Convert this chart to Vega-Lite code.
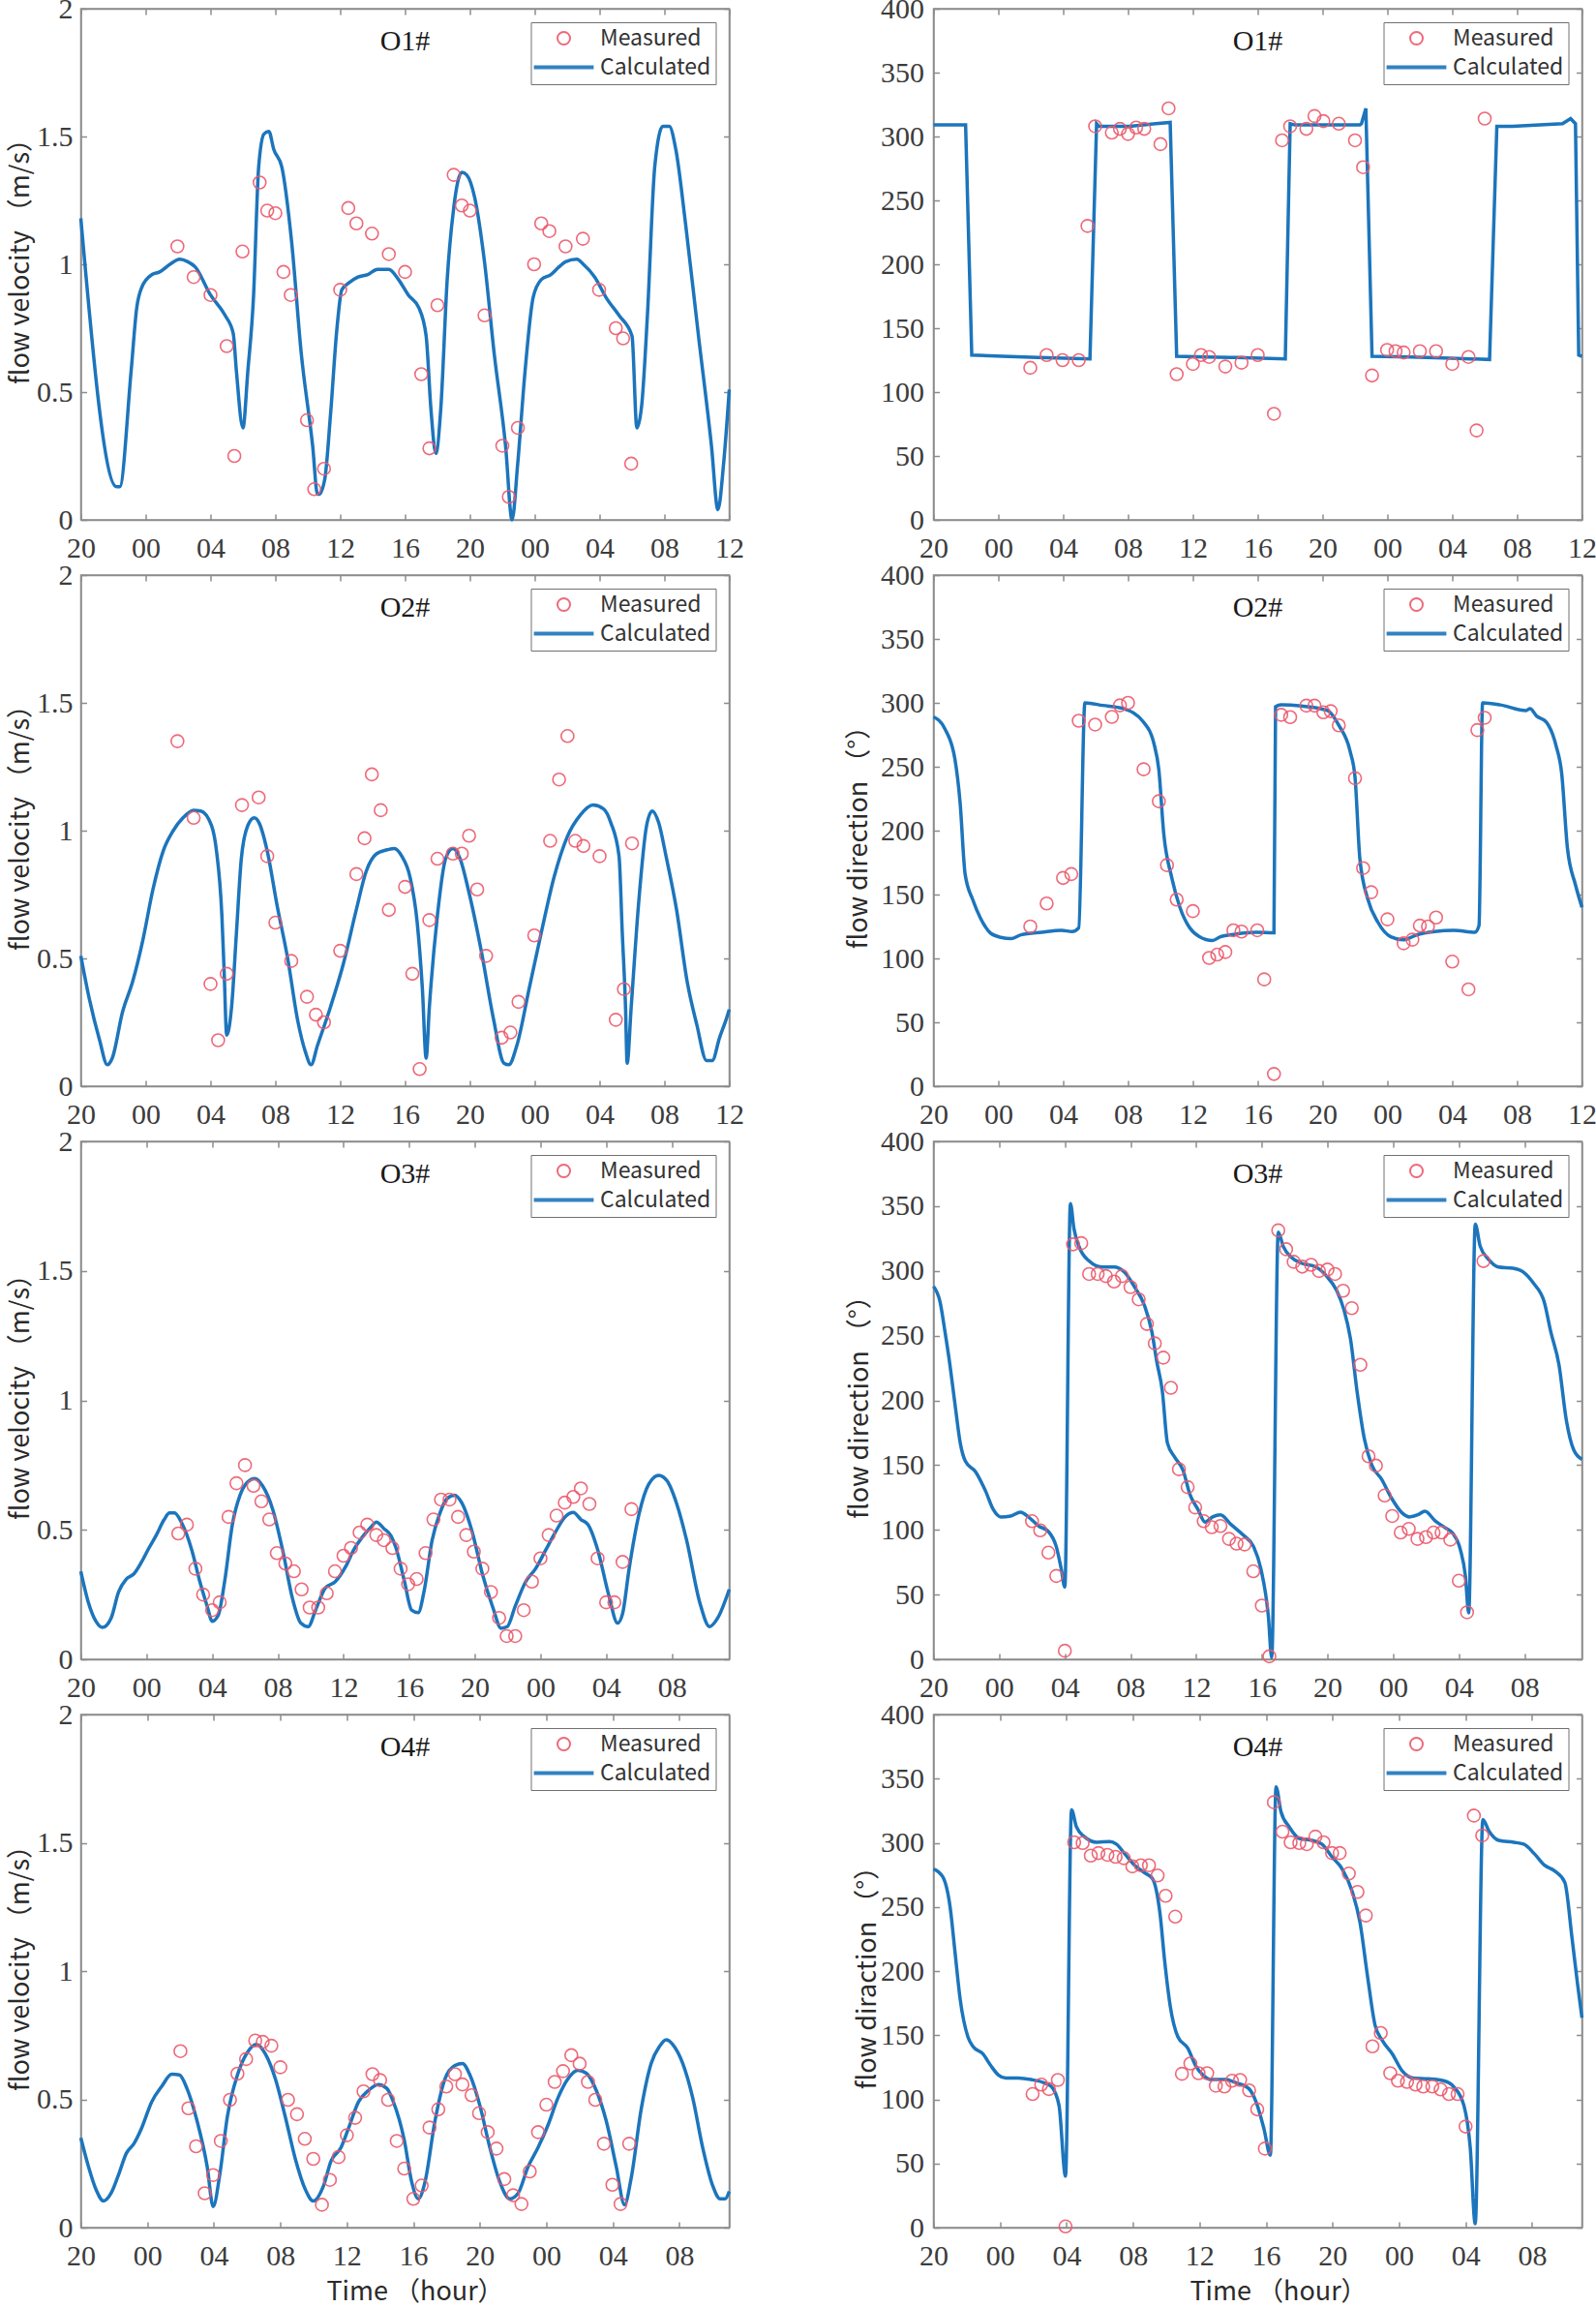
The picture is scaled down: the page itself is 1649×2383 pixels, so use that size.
{
"$schema": "https://vega.github.io/schema/vega-lite/v6.json",
"background": "white",
"padding": {"left": 6.5, "top": -7, "right": 0, "bottom": 12},
"columns": 2,
"spacing": {"row": 57, "column": 211},
"bounds": "flush",
"align": "each",
"resolve": {"scale": {"color": "independent", "shape": "independent"}, "legend": {"color": "independent", "shape": "independent"}},
"config": {
  "view": {"stroke": "#8c8c8c", "strokeWidth": 1.5},
  "axis": {"domainColor": "#8c8c8c", "domainWidth": 1.5, "tickColor": "#8c8c8c", "tickSize": -6, "tickWidth": 1.5, "labelFont": "Liberation Serif", "labelFontSize": 30, "labelColor": "#3c3c3c", "labelFlush": false, "labelOverlap": false, "labelBound": false, "grid": false, "titleFont": "Noto Sans CJK KR", "titleFontSize": 27, "titleFontWeight": "normal", "titleColor": "#2a2a2a"},
  "axisBottom": {"labelPadding": 20},
  "axisLeft": {"labelPadding": 14.5},
  "legend": {"orient": "top-right", "offset": 14, "padding": 5, "rowPadding": 6, "strokeColor": "#707070", "fillColor": "white", "labelFont": "Noto Sans CJK KR", "labelFontSize": 23, "labelColor": "#333333", "labelOffset": 26, "symbolOffset": 17.5, "symbolSize": 169, "symbolStrokeWidth": 2}
},
"concat": [
{"width": 670, "height": 528,
 "title": {"text": "O1#", "frame": "group", "anchor": "middle", "baseline": "top", "offset": -18, "dy": 46, "font": "Liberation Serif", "fontSize": 30, "fontWeight": "normal", "color": "#1a1a1a"},
 "layer": [
  {"data": {"name": "c"}, "transform": [{"filter": "datum.p==1"}], "mark": {"type": "line", "color": "#1c75bc", "strokeWidth": 3.5, "interpolate": "monotone"},
   "encoding": {"x": {"field": "h", "type": "quantitative", "scale": {"domain": [0, 40], "nice": false, "zero": false}, "axis": {"orient": "bottom", "values": [0,4,8,12,16,20,24,28,32,36,40], "labelExpr": "(((datum.value+20)%24)<10?'0':'')+((datum.value+20)%24)", "title": null}},
    "y": {"field": "v", "type": "quantitative", "scale": {"domain": [0, 2], "nice": false, "zero": false}, "axis": {"orient": "left", "values": [0,0.5,1,1.5,2], "format": "~g", "title": "flow velocity （m/s）", "titleX": -62, "titleY": 254, "titleBaseline": "middle"}}}},
  {"data": {"name": "m"}, "transform": [{"filter": "datum.p==1"}], "mark": {"type": "point", "filled": false, "size": 169, "strokeWidth": 1.6, "opacity": 0.9},
   "encoding": {"x": {"field": "h", "type": "quantitative", "axis": {"orient": "top", "values": [0,4,8,12,16,20,24,28,32,36,40], "labels": false, "title": null}},
    "y": {"field": "v", "type": "quantitative", "axis": {"orient": "right", "values": [0,0.5,1,1.5,2], "labels": false, "title": null}},
    "color": {"datum": "Measured", "type": "nominal", "scale": {"domain": ["Measured", "Calculated"], "range": ["#ec5a6c", "#1c75bc"]}, "legend": {"title": null}},
    "shape": {"datum": "Measured", "type": "nominal", "scale": {"domain": ["Measured", "Calculated"], "range": ["circle", "M-4.6,-0.15H4.6V0.15H-4.6Z"]}, "legend": {"title": null}}}}
 ],
 "resolve": {"axis": {"x": "independent", "y": "independent"}}},
{"width": 670, "height": 528,
 "title": {"text": "O1#", "frame": "group", "anchor": "middle", "baseline": "top", "offset": -18, "dy": 46, "font": "Liberation Serif", "fontSize": 30, "fontWeight": "normal", "color": "#1a1a1a"},
 "layer": [
  {"data": {"name": "c"}, "transform": [{"filter": "datum.p==2"}], "mark": {"type": "line", "color": "#1c75bc", "strokeWidth": 3.5, "interpolate": "linear"},
   "encoding": {"x": {"field": "h", "type": "quantitative", "scale": {"domain": [0, 40], "nice": false, "zero": false}, "axis": {"orient": "bottom", "values": [0,4,8,12,16,20,24,28,32,36,40], "labelExpr": "(((datum.value+20)%24)<10?'0':'')+((datum.value+20)%24)", "title": null}},
    "y": {"field": "v", "type": "quantitative", "scale": {"domain": [0, 400], "nice": false, "zero": false}, "axis": {"orient": "left", "values": [0,50,100,150,200,250,300,350,400], "format": "d", "labelPadding": 16, "title": null}}}},
  {"data": {"name": "m"}, "transform": [{"filter": "datum.p==2"}], "mark": {"type": "point", "filled": false, "size": 169, "strokeWidth": 1.6, "opacity": 0.9},
   "encoding": {"x": {"field": "h", "type": "quantitative", "axis": {"orient": "top", "values": [0,4,8,12,16,20,24,28,32,36,40], "labels": false, "title": null}},
    "y": {"field": "v", "type": "quantitative", "axis": {"orient": "right", "values": [0,50,100,150,200,250,300,350,400], "labels": false, "title": null}},
    "color": {"datum": "Measured", "type": "nominal", "scale": {"domain": ["Measured", "Calculated"], "range": ["#ec5a6c", "#1c75bc"]}, "legend": {"title": null}},
    "shape": {"datum": "Measured", "type": "nominal", "scale": {"domain": ["Measured", "Calculated"], "range": ["circle", "M-4.6,-0.15H4.6V0.15H-4.6Z"]}, "legend": {"title": null}}}}
 ],
 "resolve": {"axis": {"x": "independent", "y": "independent"}}},
{"width": 670, "height": 528,
 "title": {"text": "O2#", "frame": "group", "anchor": "middle", "baseline": "top", "offset": -18, "dy": 46, "font": "Liberation Serif", "fontSize": 30, "fontWeight": "normal", "color": "#1a1a1a"},
 "layer": [
  {"data": {"name": "c"}, "transform": [{"filter": "datum.p==3"}], "mark": {"type": "line", "color": "#1c75bc", "strokeWidth": 3.5, "interpolate": "monotone"},
   "encoding": {"x": {"field": "h", "type": "quantitative", "scale": {"domain": [0, 40], "nice": false, "zero": false}, "axis": {"orient": "bottom", "values": [0,4,8,12,16,20,24,28,32,36,40], "labelExpr": "(((datum.value+20)%24)<10?'0':'')+((datum.value+20)%24)", "title": null}},
    "y": {"field": "v", "type": "quantitative", "scale": {"domain": [0, 2], "nice": false, "zero": false}, "axis": {"orient": "left", "values": [0,0.5,1,1.5,2], "format": "~g", "title": "flow velocity （m/s）", "titleX": -62, "titleY": 254, "titleBaseline": "middle"}}}},
  {"data": {"name": "m"}, "transform": [{"filter": "datum.p==3"}], "mark": {"type": "point", "filled": false, "size": 169, "strokeWidth": 1.6, "opacity": 0.9},
   "encoding": {"x": {"field": "h", "type": "quantitative", "axis": {"orient": "top", "values": [0,4,8,12,16,20,24,28,32,36,40], "labels": false, "title": null}},
    "y": {"field": "v", "type": "quantitative", "axis": {"orient": "right", "values": [0,0.5,1,1.5,2], "labels": false, "title": null}},
    "color": {"datum": "Measured", "type": "nominal", "scale": {"domain": ["Measured", "Calculated"], "range": ["#ec5a6c", "#1c75bc"]}, "legend": {"title": null}},
    "shape": {"datum": "Measured", "type": "nominal", "scale": {"domain": ["Measured", "Calculated"], "range": ["circle", "M-4.6,-0.15H4.6V0.15H-4.6Z"]}, "legend": {"title": null}}}}
 ],
 "resolve": {"axis": {"x": "independent", "y": "independent"}}},
{"width": 670, "height": 528,
 "title": {"text": "O2#", "frame": "group", "anchor": "middle", "baseline": "top", "offset": -18, "dy": 46, "font": "Liberation Serif", "fontSize": 30, "fontWeight": "normal", "color": "#1a1a1a"},
 "layer": [
  {"data": {"name": "c"}, "transform": [{"filter": "datum.p==4"}], "mark": {"type": "line", "color": "#1c75bc", "strokeWidth": 3.5, "interpolate": "monotone"},
   "encoding": {"x": {"field": "h", "type": "quantitative", "scale": {"domain": [0, 40], "nice": false, "zero": false}, "axis": {"orient": "bottom", "values": [0,4,8,12,16,20,24,28,32,36,40], "labelExpr": "(((datum.value+20)%24)<10?'0':'')+((datum.value+20)%24)", "title": null}},
    "y": {"field": "v", "type": "quantitative", "scale": {"domain": [0, 400], "nice": false, "zero": false}, "axis": {"orient": "left", "values": [0,50,100,150,200,250,300,350,400], "format": "d", "labelPadding": 16, "title": "flow direction （°）", "titleX": -77, "titleBaseline": "middle"}}}},
  {"data": {"name": "m"}, "transform": [{"filter": "datum.p==4"}], "mark": {"type": "point", "filled": false, "size": 169, "strokeWidth": 1.6, "opacity": 0.9},
   "encoding": {"x": {"field": "h", "type": "quantitative", "axis": {"orient": "top", "values": [0,4,8,12,16,20,24,28,32,36,40], "labels": false, "title": null}},
    "y": {"field": "v", "type": "quantitative", "axis": {"orient": "right", "values": [0,50,100,150,200,250,300,350,400], "labels": false, "title": null}},
    "color": {"datum": "Measured", "type": "nominal", "scale": {"domain": ["Measured", "Calculated"], "range": ["#ec5a6c", "#1c75bc"]}, "legend": {"title": null}},
    "shape": {"datum": "Measured", "type": "nominal", "scale": {"domain": ["Measured", "Calculated"], "range": ["circle", "M-4.6,-0.15H4.6V0.15H-4.6Z"]}, "legend": {"title": null}}}}
 ],
 "resolve": {"axis": {"x": "independent", "y": "independent"}}},
{"width": 670, "height": 535,
 "title": {"text": "O3#", "frame": "group", "anchor": "middle", "baseline": "top", "offset": -18, "dy": 46, "font": "Liberation Serif", "fontSize": 30, "fontWeight": "normal", "color": "#1a1a1a"},
 "layer": [
  {"data": {"name": "c"}, "transform": [{"filter": "datum.p==5"}], "mark": {"type": "line", "color": "#1c75bc", "strokeWidth": 3.5, "interpolate": "monotone"},
   "encoding": {"x": {"field": "h", "type": "quantitative", "scale": {"domain": [0, 39.5], "nice": false, "zero": false}, "axis": {"orient": "bottom", "values": [0,4,8,12,16,20,24,28,32,36], "labelExpr": "(((datum.value+20)%24)<10?'0':'')+((datum.value+20)%24)", "title": null}},
    "y": {"field": "v", "type": "quantitative", "scale": {"domain": [0, 2], "nice": false, "zero": false}, "axis": {"orient": "left", "values": [0,0.5,1,1.5,2], "format": "~g", "title": "flow velocity （m/s）", "titleX": -62, "titleY": 257, "titleBaseline": "middle"}}}},
  {"data": {"name": "m"}, "transform": [{"filter": "datum.p==5"}], "mark": {"type": "point", "filled": false, "size": 169, "strokeWidth": 1.6, "opacity": 0.9},
   "encoding": {"x": {"field": "h", "type": "quantitative", "axis": {"orient": "top", "values": [0,4,8,12,16,20,24,28,32,36], "labels": false, "title": null}},
    "y": {"field": "v", "type": "quantitative", "axis": {"orient": "right", "values": [0,0.5,1,1.5,2], "labels": false, "title": null}},
    "color": {"datum": "Measured", "type": "nominal", "scale": {"domain": ["Measured", "Calculated"], "range": ["#ec5a6c", "#1c75bc"]}, "legend": {"title": null}},
    "shape": {"datum": "Measured", "type": "nominal", "scale": {"domain": ["Measured", "Calculated"], "range": ["circle", "M-4.6,-0.15H4.6V0.15H-4.6Z"]}, "legend": {"title": null}}}}
 ],
 "resolve": {"axis": {"x": "independent", "y": "independent"}}},
{"width": 670, "height": 535,
 "title": {"text": "O3#", "frame": "group", "anchor": "middle", "baseline": "top", "offset": -18, "dy": 46, "font": "Liberation Serif", "fontSize": 30, "fontWeight": "normal", "color": "#1a1a1a"},
 "layer": [
  {"data": {"name": "c"}, "transform": [{"filter": "datum.p==6"}], "mark": {"type": "line", "color": "#1c75bc", "strokeWidth": 3.5, "interpolate": "monotone"},
   "encoding": {"x": {"field": "h", "type": "quantitative", "scale": {"domain": [0, 39.5], "nice": false, "zero": false}, "axis": {"orient": "bottom", "values": [0,4,8,12,16,20,24,28,32,36], "labelExpr": "(((datum.value+20)%24)<10?'0':'')+((datum.value+20)%24)", "title": null}},
    "y": {"field": "v", "type": "quantitative", "scale": {"domain": [0, 400], "nice": false, "zero": false}, "axis": {"orient": "left", "values": [0,50,100,150,200,250,300,350,400], "format": "d", "labelPadding": 16, "title": "flow direction （°）", "titleX": -76, "titleBaseline": "middle"}}}},
  {"data": {"name": "m"}, "transform": [{"filter": "datum.p==6"}], "mark": {"type": "point", "filled": false, "size": 169, "strokeWidth": 1.6, "opacity": 0.9},
   "encoding": {"x": {"field": "h", "type": "quantitative", "axis": {"orient": "top", "values": [0,4,8,12,16,20,24,28,32,36], "labels": false, "title": null}},
    "y": {"field": "v", "type": "quantitative", "axis": {"orient": "right", "values": [0,50,100,150,200,250,300,350,400], "labels": false, "title": null}},
    "color": {"datum": "Measured", "type": "nominal", "scale": {"domain": ["Measured", "Calculated"], "range": ["#ec5a6c", "#1c75bc"]}, "legend": {"title": null}},
    "shape": {"datum": "Measured", "type": "nominal", "scale": {"domain": ["Measured", "Calculated"], "range": ["circle", "M-4.6,-0.15H4.6V0.15H-4.6Z"]}, "legend": {"title": null}}}}
 ],
 "resolve": {"axis": {"x": "independent", "y": "independent"}}},
{"width": 670, "height": 530,
 "title": {"text": "O4#", "frame": "group", "anchor": "middle", "baseline": "top", "offset": -18, "dy": 46, "font": "Liberation Serif", "fontSize": 30, "fontWeight": "normal", "color": "#1a1a1a"},
 "layer": [
  {"data": {"name": "c"}, "transform": [{"filter": "datum.p==7"}], "mark": {"type": "line", "color": "#1c75bc", "strokeWidth": 3.5, "interpolate": "monotone"},
   "encoding": {"x": {"field": "h", "type": "quantitative", "scale": {"domain": [0, 39], "nice": false, "zero": false}, "axis": {"orient": "bottom", "values": [0,4,8,12,16,20,24,28,32,36], "labelExpr": "(((datum.value+20)%24)<10?'0':'')+((datum.value+20)%24)", "title": "Time （hour）", "titleX": 345, "titleY": 66, "titleBaseline": "middle"}},
    "y": {"field": "v", "type": "quantitative", "scale": {"domain": [0, 2], "nice": false, "zero": false}, "axis": {"orient": "left", "values": [0,0.5,1,1.5,2], "format": "~g", "title": "flow velocity （m/s）", "titleX": -62, "titleY": 255, "titleBaseline": "middle"}}}},
  {"data": {"name": "m"}, "transform": [{"filter": "datum.p==7"}], "mark": {"type": "point", "filled": false, "size": 169, "strokeWidth": 1.6, "opacity": 0.9},
   "encoding": {"x": {"field": "h", "type": "quantitative", "axis": {"orient": "top", "values": [0,4,8,12,16,20,24,28,32,36], "labels": false, "title": null}},
    "y": {"field": "v", "type": "quantitative", "axis": {"orient": "right", "values": [0,0.5,1,1.5,2], "labels": false, "title": null}},
    "color": {"datum": "Measured", "type": "nominal", "scale": {"domain": ["Measured", "Calculated"], "range": ["#ec5a6c", "#1c75bc"]}, "legend": {"title": null}},
    "shape": {"datum": "Measured", "type": "nominal", "scale": {"domain": ["Measured", "Calculated"], "range": ["circle", "M-4.6,-0.15H4.6V0.15H-4.6Z"]}, "legend": {"title": null}}}}
 ],
 "resolve": {"axis": {"x": "independent", "y": "independent"}}},
{"width": 670, "height": 530,
 "title": {"text": "O4#", "frame": "group", "anchor": "middle", "baseline": "top", "offset": -18, "dy": 46, "font": "Liberation Serif", "fontSize": 30, "fontWeight": "normal", "color": "#1a1a1a"},
 "layer": [
  {"data": {"name": "c"}, "transform": [{"filter": "datum.p==8"}], "mark": {"type": "line", "color": "#1c75bc", "strokeWidth": 3.5, "interpolate": "monotone"},
   "encoding": {"x": {"field": "h", "type": "quantitative", "scale": {"domain": [0, 39], "nice": false, "zero": false}, "axis": {"orient": "bottom", "values": [0,4,8,12,16,20,24,28,32,36], "labelExpr": "(((datum.value+20)%24)<10?'0':'')+((datum.value+20)%24)", "title": "Time （hour）", "titleX": 356, "titleY": 66, "titleBaseline": "middle"}},
    "y": {"field": "v", "type": "quantitative", "scale": {"domain": [0, 400], "nice": false, "zero": false}, "axis": {"orient": "left", "values": [0,50,100,150,200,250,300,350,400], "format": "d", "labelPadding": 16, "title": "flow diraction （°）", "titleX": -68, "titleBaseline": "middle"}}}},
  {"data": {"name": "m"}, "transform": [{"filter": "datum.p==8"}], "mark": {"type": "point", "filled": false, "size": 169, "strokeWidth": 1.6, "opacity": 0.9},
   "encoding": {"x": {"field": "h", "type": "quantitative", "axis": {"orient": "top", "values": [0,4,8,12,16,20,24,28,32,36], "labels": false, "title": null}},
    "y": {"field": "v", "type": "quantitative", "axis": {"orient": "right", "values": [0,50,100,150,200,250,300,350,400], "labels": false, "title": null}},
    "color": {"datum": "Measured", "type": "nominal", "scale": {"domain": ["Measured", "Calculated"], "range": ["#ec5a6c", "#1c75bc"]}, "legend": {"title": null}},
    "shape": {"datum": "Measured", "type": "nominal", "scale": {"domain": ["Measured", "Calculated"], "range": ["circle", "M-4.6,-0.15H4.6V0.15H-4.6Z"]}, "legend": {"title": null}}}}
 ],
 "resolve": {"axis": {"x": "independent", "y": "independent"}}}
],
"datasets": {
"c": [
{"p":1,"h":0,"v":1.18},{"p":1,"h":2.2,"v":0.13},{"p":1,"h":2.4,"v":0.13},{"p":1,"h":3.1,"v":0.58},{"p":1,"h":3.45,"v":0.83},{"p":1,"h":3.76,"v":0.91},{"p":1,"h":4.4,"v":0.96},{"p":1,"h":4.86,"v":0.97},{"p":1,"h":5.5,"v":1.0},{"p":1,"h":6.1,"v":1.02},{"p":1,"h":6.6,"v":1.01},{"p":1,"h":7.05,"v":0.99},{"p":1,"h":8,"v":0.88},{"p":1,"h":8.9,"v":0.8},{"p":1,"h":9.4,"v":0.73},{"p":1,"h":9.6,"v":0.58},{"p":1,"h":10,"v":0.36},{"p":1,"h":10.3,"v":0.58},{"p":1,"h":10.65,"v":0.87},{"p":1,"h":10.97,"v":1.38},{"p":1,"h":11.3,"v":1.51},{"p":1,"h":11.6,"v":1.52},{"p":1,"h":11.9,"v":1.45},{"p":1,"h":12.4,"v":1.38},{"p":1,"h":13,"v":1.09},{"p":1,"h":13.6,"v":0.65},{"p":1,"h":14.3,"v":0.29},{"p":1,"h":14.6,"v":0.1},{"p":1,"h":14.7,"v":0.1},{"p":1,"h":15.05,"v":0.16},{"p":1,"h":15.4,"v":0.41},{"p":1,"h":15.8,"v":0.75},{"p":1,"h":16.1,"v":0.9},{"p":1,"h":16.6,"v":0.93},{"p":1,"h":17.1,"v":0.95},{"p":1,"h":17.7,"v":0.96},{"p":1,"h":18.3,"v":0.98},{"p":1,"h":19,"v":0.98},{"p":1,"h":19.6,"v":0.94},{"p":1,"h":20.2,"v":0.88},{"p":1,"h":20.85,"v":0.83},{"p":1,"h":21.3,"v":0.72},{"p":1,"h":21.6,"v":0.43},{"p":1,"h":21.9,"v":0.26},{"p":1,"h":22.2,"v":0.43},{"p":1,"h":22.6,"v":0.94},{"p":1,"h":23,"v":1.22},{"p":1,"h":23.5,"v":1.36},{"p":1,"h":23.8,"v":1.35},{"p":1,"h":24.3,"v":1.26},{"p":1,"h":24.9,"v":1.01},{"p":1,"h":25.5,"v":0.65},{"p":1,"h":26.2,"v":0.29},{"p":1,"h":26.6,"v":0.0},{"p":1,"h":26.95,"v":0.22},{"p":1,"h":27.4,"v":0.58},{"p":1,"h":27.9,"v":0.87},{"p":1,"h":28.4,"v":0.94},{"p":1,"h":29,"v":0.96},{"p":1,"h":29.5,"v":0.99},{"p":1,"h":29.9,"v":1.01},{"p":1,"h":30.6,"v":1.02},{"p":1,"h":31,"v":1.0},{"p":1,"h":31.7,"v":0.95},{"p":1,"h":32.4,"v":0.87},{"p":1,"h":33.2,"v":0.8},{"p":1,"h":34,"v":0.72},{"p":1,"h":34.3,"v":0.36},{"p":1,"h":34.6,"v":0.45},{"p":1,"h":34.95,"v":0.8},{"p":1,"h":35.4,"v":1.38},{"p":1,"h":35.9,"v":1.54},{"p":1,"h":36.3,"v":1.54},{"p":1,"h":36.7,"v":1.45},{"p":1,"h":37.3,"v":1.16},{"p":1,"h":38.1,"v":0.72},{"p":1,"h":38.9,"v":0.29},{"p":1,"h":39.3,"v":0.04},{"p":1,"h":39.65,"v":0.22},{"p":1,"h":40,"v":0.51},
{"p":2,"h":0,"v":309},{"p":2,"h":1.98,"v":309},{"p":2,"h":2.36,"v":129},{"p":2,"h":4.25,"v":128},{"p":2,"h":6.45,"v":127},{"p":2,"h":9.65,"v":126},{"p":2,"h":10.06,"v":310},{"p":2,"h":10.2,"v":308},{"p":2,"h":12.1,"v":308},{"p":2,"h":13.7,"v":310},{"p":2,"h":14.6,"v":311},{"p":2,"h":15,"v":128},{"p":2,"h":16.8,"v":127.5},{"p":2,"h":18.7,"v":127},{"p":2,"h":21.7,"v":126},{"p":2,"h":22,"v":310},{"p":2,"h":22.3,"v":309},{"p":2,"h":24.4,"v":309},{"p":2,"h":26.3,"v":309},{"p":2,"h":26.4,"v":310},{"p":2,"h":26.67,"v":322},{"p":2,"h":27.05,"v":128},{"p":2,"h":29.4,"v":127.5},{"p":2,"h":31.9,"v":126.5},{"p":2,"h":34.3,"v":125.5},{"p":2,"h":34.75,"v":308},{"p":2,"h":35.7,"v":308},{"p":2,"h":38.8,"v":310},{"p":2,"h":39.3,"v":314},{"p":2,"h":39.6,"v":310},{"p":2,"h":39.8,"v":129},{"p":2,"h":40,"v":128},
{"p":3,"h":0,"v":0.51},{"p":3,"h":0.53,"v":0.34},{"p":3,"h":1.16,"v":0.18},{"p":3,"h":1.63,"v":0.084},{"p":3,"h":1.94,"v":0.11},{"p":3,"h":2.57,"v":0.29},{"p":3,"h":3.2,"v":0.41},{"p":3,"h":3.82,"v":0.57},{"p":3,"h":4.45,"v":0.77},{"p":3,"h":5.08,"v":0.92},{"p":3,"h":5.7,"v":1.0},{"p":3,"h":6.3,"v":1.05},{"p":3,"h":6.96,"v":1.08},{"p":3,"h":7.4,"v":1.077},{"p":3,"h":8.06,"v":1.02},{"p":3,"h":8.37,"v":0.92},{"p":3,"h":8.7,"v":0.67},{"p":3,"h":8.84,"v":0.45},{"p":3,"h":9,"v":0.2},{"p":3,"h":9.3,"v":0.31},{"p":3,"h":9.6,"v":0.6},{"p":3,"h":9.9,"v":0.89},{"p":3,"h":10.3,"v":1.02},{"p":3,"h":10.7,"v":1.05},{"p":3,"h":11,"v":1.03},{"p":3,"h":11.5,"v":0.92},{"p":3,"h":12.1,"v":0.71},{"p":3,"h":12.76,"v":0.5},{"p":3,"h":13.4,"v":0.25},{"p":3,"h":13.85,"v":0.135},{"p":3,"h":14.2,"v":0.084},{"p":3,"h":14.6,"v":0.16},{"p":3,"h":15.4,"v":0.31},{"p":3,"h":16.2,"v":0.48},{"p":3,"h":16.99,"v":0.69},{"p":3,"h":17.6,"v":0.84},{"p":3,"h":18.25,"v":0.91},{"p":3,"h":18.9,"v":0.925},{"p":3,"h":19.34,"v":0.93},{"p":3,"h":19.8,"v":0.9},{"p":3,"h":20.3,"v":0.82},{"p":3,"h":20.75,"v":0.64},{"p":3,"h":21.07,"v":0.38},{"p":3,"h":21.3,"v":0.11},{"p":3,"h":21.5,"v":0.31},{"p":3,"h":22,"v":0.67},{"p":3,"h":22.5,"v":0.89},{"p":3,"h":22.95,"v":0.93},{"p":3,"h":23.4,"v":0.89},{"p":3,"h":23.9,"v":0.77},{"p":3,"h":24.7,"v":0.53},{"p":3,"h":25.45,"v":0.265},{"p":3,"h":26.1,"v":0.09},{"p":3,"h":26.4,"v":0.084},{"p":3,"h":26.9,"v":0.16},{"p":3,"h":27.65,"v":0.38},{"p":3,"h":28.4,"v":0.6},{"p":3,"h":29.2,"v":0.82},{"p":3,"h":30,"v":0.975},{"p":3,"h":30.8,"v":1.06},{"p":3,"h":31.6,"v":1.1},{"p":3,"h":32.25,"v":1.085},{"p":3,"h":32.7,"v":1.03},{"p":3,"h":33.2,"v":0.9},{"p":3,"h":33.4,"v":0.6},{"p":3,"h":33.6,"v":0.31},{"p":3,"h":33.7,"v":0.09},{"p":3,"h":33.95,"v":0.31},{"p":3,"h":34.4,"v":0.71},{"p":3,"h":34.9,"v":1.02},{"p":3,"h":35.25,"v":1.077},{"p":3,"h":35.65,"v":1.03},{"p":3,"h":36.1,"v":0.9},{"p":3,"h":36.75,"v":0.69},{"p":3,"h":37.4,"v":0.41},{"p":3,"h":38,"v":0.24},{"p":3,"h":38.6,"v":0.1},{"p":3,"h":38.95,"v":0.1},{"p":3,"h":39.4,"v":0.19},{"p":3,"h":39.8,"v":0.26},{"p":3,"h":40,"v":0.3},
{"p":4,"h":0,"v":289},{"p":4,"h":0.69,"v":280},{"p":4,"h":1.32,"v":256},{"p":4,"h":1.64,"v":222},{"p":4,"h":1.95,"v":166},{"p":4,"h":2.42,"v":146},{"p":4,"h":2.9,"v":131.5},{"p":4,"h":3.5,"v":120},{"p":4,"h":4.15,"v":116.5},{"p":4,"h":4.78,"v":115.5},{"p":4,"h":5.4,"v":118.5},{"p":4,"h":6.67,"v":120.5},{"p":4,"h":7.9,"v":122},{"p":4,"h":8.55,"v":121},{"p":4,"h":8.96,"v":124},{"p":4,"h":9.34,"v":300},{"p":4,"h":10.44,"v":298},{"p":4,"h":11.7,"v":295.5},{"p":4,"h":12.95,"v":285},{"p":4,"h":13.6,"v":268},{"p":4,"h":13.9,"v":247.6},{"p":4,"h":14.2,"v":198},{"p":4,"h":14.7,"v":163},{"p":4,"h":15.2,"v":140},{"p":4,"h":15.8,"v":124},{"p":4,"h":16.4,"v":117},{"p":4,"h":17.2,"v":114},{"p":4,"h":17.7,"v":117},{"p":4,"h":18.6,"v":119},{"p":4,"h":19.9,"v":120.5},{"p":4,"h":21,"v":120},{"p":4,"h":21.1,"v":297},{"p":4,"h":21.45,"v":298.5},{"p":4,"h":22.7,"v":297.5},{"p":4,"h":24.3,"v":294},{"p":4,"h":25,"v":282.5},{"p":4,"h":25.7,"v":262},{"p":4,"h":26,"v":242},{"p":4,"h":26.3,"v":178},{"p":4,"h":26.8,"v":146},{"p":4,"h":27.4,"v":128.6},{"p":4,"h":28.2,"v":117},{"p":4,"h":29,"v":114.6},{"p":4,"h":29.8,"v":118.4},{"p":4,"h":30.9,"v":121},{"p":4,"h":32.1,"v":122},{"p":4,"h":33.4,"v":120.5},{"p":4,"h":33.65,"v":125.7},{"p":4,"h":33.87,"v":300},{"p":4,"h":34.97,"v":298.4},{"p":4,"h":36.55,"v":294},{"p":4,"h":36.8,"v":295.5},{"p":4,"h":37.2,"v":289.7},{"p":4,"h":37.8,"v":285},{"p":4,"h":38.4,"v":266.5},{"p":4,"h":38.75,"v":244.7},{"p":4,"h":39.1,"v":186.7},{"p":4,"h":39.6,"v":157.6},{"p":4,"h":40,"v":140},
{"p":5,"h":0,"v":0.34},{"p":5,"h":0.46,"v":0.22},{"p":5,"h":0.92,"v":0.147},{"p":5,"h":1.32,"v":0.123},{"p":5,"h":1.85,"v":0.16},{"p":5,"h":2.3,"v":0.26},{"p":5,"h":2.77,"v":0.31},{"p":5,"h":3.23,"v":0.33},{"p":5,"h":3.7,"v":0.376},{"p":5,"h":4.15,"v":0.43},{"p":5,"h":4.6,"v":0.48},{"p":5,"h":5.08,"v":0.54},{"p":5,"h":5.4,"v":0.565},{"p":5,"h":5.7,"v":0.565},{"p":5,"h":6.15,"v":0.526},{"p":5,"h":6.77,"v":0.42},{"p":5,"h":7.23,"v":0.305},{"p":5,"h":7.7,"v":0.205},{"p":5,"h":8,"v":0.147},{"p":5,"h":8.37,"v":0.17},{"p":5,"h":8.77,"v":0.305},{"p":5,"h":9.23,"v":0.52},{"p":5,"h":9.7,"v":0.634},{"p":5,"h":10.15,"v":0.684},{"p":5,"h":10.6,"v":0.698},{"p":5,"h":11.07,"v":0.67},{"p":5,"h":11.7,"v":0.577},{"p":5,"h":12.3,"v":0.42},{"p":5,"h":12.9,"v":0.233},{"p":5,"h":13.4,"v":0.14},{"p":5,"h":13.85,"v":0.126},{"p":5,"h":14.3,"v":0.19},{"p":5,"h":14.9,"v":0.276},{"p":5,"h":15.5,"v":0.3},{"p":5,"h":16.15,"v":0.36},{"p":5,"h":16.6,"v":0.42},{"p":5,"h":17.2,"v":0.476},{"p":5,"h":17.7,"v":0.512},{"p":5,"h":18,"v":0.53},{"p":5,"h":18.46,"v":0.505},{"p":5,"h":18.9,"v":0.476},{"p":5,"h":19.2,"v":0.43},{"p":5,"h":19.7,"v":0.305},{"p":5,"h":20.15,"v":0.19},{"p":5,"h":20.55,"v":0.18},{"p":5,"h":20.9,"v":0.26},{"p":5,"h":21.4,"v":0.46},{"p":5,"h":21.85,"v":0.56},{"p":5,"h":22.3,"v":0.62},{"p":5,"h":22.77,"v":0.634},{"p":5,"h":23.2,"v":0.605},{"p":5,"h":23.85,"v":0.49},{"p":5,"h":24.46,"v":0.33},{"p":5,"h":25.1,"v":0.2},{"p":5,"h":25.6,"v":0.12},{"p":5,"h":25.97,"v":0.126},{"p":5,"h":26.46,"v":0.205},{"p":5,"h":27.1,"v":0.3},{"p":5,"h":27.7,"v":0.35},{"p":5,"h":28.3,"v":0.42},{"p":5,"h":28.9,"v":0.49},{"p":5,"h":29.5,"v":0.55},{"p":5,"h":30,"v":0.567},{"p":5,"h":30.46,"v":0.54},{"p":5,"h":30.9,"v":0.52},{"p":5,"h":31.5,"v":0.42},{"p":5,"h":32.15,"v":0.25},{"p":5,"h":32.7,"v":0.14},{"p":5,"h":33,"v":0.176},{"p":5,"h":33.4,"v":0.35},{"p":5,"h":34,"v":0.56},{"p":5,"h":34.6,"v":0.677},{"p":5,"h":35.2,"v":0.71},{"p":5,"h":35.7,"v":0.69},{"p":5,"h":36.3,"v":0.6},{"p":5,"h":36.9,"v":0.46},{"p":5,"h":37.7,"v":0.22},{"p":5,"h":38.3,"v":0.126},{"p":5,"h":38.8,"v":0.16},{"p":5,"h":39.5,"v":0.27},
{"p":6,"h":0,"v":288},{"p":6,"h":0.4,"v":276},{"p":6,"h":0.7,"v":253},{"p":6,"h":1.0,"v":227.5},{"p":6,"h":1.32,"v":196},{"p":6,"h":1.63,"v":167},{"p":6,"h":1.94,"v":153},{"p":6,"h":2.55,"v":145},{"p":6,"h":3.17,"v":130},{"p":6,"h":3.63,"v":116},{"p":6,"h":4.1,"v":110},{"p":6,"h":4.7,"v":110.7},{"p":6,"h":5.3,"v":113.6},{"p":6,"h":5.78,"v":110},{"p":6,"h":6.4,"v":103},{"p":6,"h":7,"v":98.7},{"p":6,"h":7.48,"v":87},{"p":6,"h":7.78,"v":70},{"p":6,"h":8,"v":55.8},{"p":6,"h":8.34,"v":352},{"p":6,"h":8.55,"v":333},{"p":6,"h":8.86,"v":319},{"p":6,"h":9.48,"v":307.6},{"p":6,"h":10.25,"v":303},{"p":6,"h":11,"v":303},{"p":6,"h":11.63,"v":299},{"p":6,"h":12.25,"v":287.5},{"p":6,"h":12.86,"v":273},{"p":6,"h":13.3,"v":253},{"p":6,"h":13.6,"v":230},{"p":6,"h":13.94,"v":207},{"p":6,"h":14.25,"v":167},{"p":6,"h":14.7,"v":156},{"p":6,"h":15.2,"v":146},{"p":6,"h":15.63,"v":127},{"p":6,"h":16.1,"v":116},{"p":6,"h":16.55,"v":106},{"p":6,"h":17,"v":110},{"p":6,"h":17.48,"v":111.6},{"p":6,"h":18.1,"v":104.4},{"p":6,"h":18.86,"v":96},{"p":6,"h":19.5,"v":87},{"p":6,"h":19.94,"v":70},{"p":6,"h":20.4,"v":33},{"p":6,"h":20.6,"v":1.4},{"p":6,"h":21,"v":330},{"p":6,"h":21.3,"v":319},{"p":6,"h":21.8,"v":310.5},{"p":6,"h":22.4,"v":306},{"p":6,"h":23.3,"v":303},{"p":6,"h":23.94,"v":296},{"p":6,"h":24.55,"v":285},{"p":6,"h":25,"v":270},{"p":6,"h":25.4,"v":247.5},{"p":6,"h":25.8,"v":207},{"p":6,"h":26.25,"v":170},{"p":6,"h":26.7,"v":150},{"p":6,"h":27.3,"v":139},{"p":6,"h":27.9,"v":124.5},{"p":6,"h":28.55,"v":113},{"p":6,"h":29,"v":110},{"p":6,"h":29.5,"v":111.6},{"p":6,"h":29.94,"v":114.4},{"p":6,"h":30.55,"v":107},{"p":6,"h":31.17,"v":101.6},{"p":6,"h":31.63,"v":97.3},{"p":6,"h":32.1,"v":84.4},{"p":6,"h":32.4,"v":64.4},{"p":6,"h":32.6,"v":35.8},{"p":6,"h":33,"v":336},{"p":6,"h":33.3,"v":319},{"p":6,"h":33.8,"v":309},{"p":6,"h":34.4,"v":303},{"p":6,"h":35.3,"v":302},{"p":6,"h":35.94,"v":299},{"p":6,"h":36.55,"v":290.4},{"p":6,"h":37.2,"v":276},{"p":6,"h":37.6,"v":253},{"p":6,"h":38.1,"v":227.5},{"p":6,"h":38.55,"v":184.5},{"p":6,"h":39,"v":161.7},{"p":6,"h":39.5,"v":154.5},
{"p":7,"h":0,"v":0.35},{"p":7,"h":0.46,"v":0.238},{"p":7,"h":0.91,"v":0.149},{"p":7,"h":1.37,"v":0.104},{"p":7,"h":1.82,"v":0.134},{"p":7,"h":2.28,"v":0.208},{"p":7,"h":2.74,"v":0.29},{"p":7,"h":3.19,"v":0.327},{"p":7,"h":3.65,"v":0.387},{"p":7,"h":4.26,"v":0.49},{"p":7,"h":4.86,"v":0.55},{"p":7,"h":5.47,"v":0.598},{"p":7,"h":5.93,"v":0.595},{"p":7,"h":6.38,"v":0.543},{"p":7,"h":6.99,"v":0.416},{"p":7,"h":7.6,"v":0.238},{"p":7,"h":7.96,"v":0.082},{"p":7,"h":8.36,"v":0.208},{"p":7,"h":8.81,"v":0.431},{"p":7,"h":9.42,"v":0.595},{"p":7,"h":10.03,"v":0.684},{"p":7,"h":10.55,"v":0.714},{"p":7,"h":11.1,"v":0.677},{"p":7,"h":11.7,"v":0.58},{"p":7,"h":12.3,"v":0.431},{"p":7,"h":12.9,"v":0.268},{"p":7,"h":13.5,"v":0.149},{"p":7,"h":13.98,"v":0.104},{"p":7,"h":14.6,"v":0.164},{"p":7,"h":15.05,"v":0.26},{"p":7,"h":15.65,"v":0.312},{"p":7,"h":16.1,"v":0.387},{"p":7,"h":16.7,"v":0.49},{"p":7,"h":17.3,"v":0.535},{"p":7,"h":17.9,"v":0.558},{"p":7,"h":18.4,"v":0.543},{"p":7,"h":18.8,"v":0.49},{"p":7,"h":19.45,"v":0.342},{"p":7,"h":19.9,"v":0.178},{"p":7,"h":20.3,"v":0.112},{"p":7,"h":20.7,"v":0.178},{"p":7,"h":21.3,"v":0.416},{"p":7,"h":21.9,"v":0.58},{"p":7,"h":22.5,"v":0.632},{"p":7,"h":22.95,"v":0.64},{"p":7,"h":23.4,"v":0.595},{"p":7,"h":24,"v":0.476},{"p":7,"h":24.6,"v":0.312},{"p":7,"h":25.2,"v":0.178},{"p":7,"h":25.8,"v":0.112},{"p":7,"h":26.3,"v":0.134},{"p":7,"h":26.9,"v":0.238},{"p":7,"h":27.5,"v":0.312},{"p":7,"h":28.1,"v":0.4},{"p":7,"h":28.7,"v":0.506},{"p":7,"h":29.3,"v":0.58},{"p":7,"h":29.9,"v":0.613},{"p":7,"h":30.4,"v":0.602},{"p":7,"h":31,"v":0.535},{"p":7,"h":31.6,"v":0.416},{"p":7,"h":32.2,"v":0.238},{"p":7,"h":32.7,"v":0.089},{"p":7,"h":33.1,"v":0.193},{"p":7,"h":33.7,"v":0.461},{"p":7,"h":34.3,"v":0.64},{"p":7,"h":34.8,"v":0.706},{"p":7,"h":35.2,"v":0.732},{"p":7,"h":35.6,"v":0.714},{"p":7,"h":36.2,"v":0.64},{"p":7,"h":36.8,"v":0.506},{"p":7,"h":37.4,"v":0.312},{"p":7,"h":38,"v":0.164},{"p":7,"h":38.45,"v":0.112},{"p":7,"h":38.75,"v":0.112},{"p":7,"h":39,"v":0.141},
{"p":8,"h":0,"v":279.6},{"p":8,"h":0.55,"v":273.6},{"p":8,"h":1,"v":249.8},{"p":8,"h":1.3,"v":214},{"p":8,"h":1.6,"v":178.4},{"p":8,"h":2.07,"v":148.7},{"p":8,"h":2.37,"v":141.3},{"p":8,"h":2.98,"v":135.3},{"p":8,"h":3.44,"v":126.4},{"p":8,"h":3.9,"v":119},{"p":8,"h":4.35,"v":116.6},{"p":8,"h":5.1,"v":116.6},{"p":8,"h":5.87,"v":115.4},{"p":8,"h":6.63,"v":113},{"p":8,"h":7.09,"v":110},{"p":8,"h":7.55,"v":95.2},{"p":8,"h":7.94,"v":40.1},{"p":8,"h":8.3,"v":325.6},{"p":8,"h":8.6,"v":312.3},{"p":8,"h":9.07,"v":304.8},{"p":8,"h":9.83,"v":300.4},{"p":8,"h":10.6,"v":301},{"p":8,"h":11,"v":298.9},{"p":8,"h":11.5,"v":291.4},{"p":8,"h":12.1,"v":282.5},{"p":8,"h":12.7,"v":276.6},{"p":8,"h":13.17,"v":272.1},{"p":8,"h":13.63,"v":243.9},{"p":8,"h":13.9,"v":208.2},{"p":8,"h":14.24,"v":172.5},{"p":8,"h":14.7,"v":148.7},{"p":8,"h":15.3,"v":139.8},{"p":8,"h":15.76,"v":126.4},{"p":8,"h":16.2,"v":119},{"p":8,"h":16.67,"v":115.4},{"p":8,"h":17.58,"v":115.4},{"p":8,"h":18.19,"v":113},{"p":8,"h":18.95,"v":108.6},{"p":8,"h":19.4,"v":98.1},{"p":8,"h":19.87,"v":77.3},{"p":8,"h":20.26,"v":56.5},{"p":8,"h":20.6,"v":343.5},{"p":8,"h":20.9,"v":324.2},{"p":8,"h":21.4,"v":312.3},{"p":8,"h":22,"v":303.4},{"p":8,"h":22.76,"v":301.9},{"p":8,"h":23.36,"v":298.9},{"p":8,"h":24,"v":288.5},{"p":8,"h":24.58,"v":279.6},{"p":8,"h":25.19,"v":261.7},{"p":8,"h":25.65,"v":237.9},{"p":8,"h":26.1,"v":196.3},{"p":8,"h":26.56,"v":157.6},{"p":8,"h":27,"v":145.7},{"p":8,"h":27.6,"v":135.3},{"p":8,"h":28.2,"v":121.9},{"p":8,"h":28.84,"v":116.6},{"p":8,"h":29.75,"v":116},{"p":8,"h":30.67,"v":114.5},{"p":8,"h":31.27,"v":110},{"p":8,"h":31.9,"v":95.2},{"p":8,"h":32.28,"v":62.5},{"p":8,"h":32.58,"v":3},{"p":8,"h":33.04,"v":318.2},{"p":8,"h":33.4,"v":309.3},{"p":8,"h":34,"v":301.9},{"p":8,"h":34.9,"v":300.4},{"p":8,"h":35.5,"v":298.9},{"p":8,"h":36.14,"v":291.4},{"p":8,"h":36.75,"v":282.5},{"p":8,"h":37.36,"v":278},{"p":8,"h":37.97,"v":269.1},{"p":8,"h":38.4,"v":226},{"p":8,"h":38.73,"v":190.3},{"p":8,"h":39,"v":163.6}
],
"m": [
{"p":1,"h":5.96,"v":1.07},{"p":1,"h":6.96,"v":0.95},{"p":1,"h":8,"v":0.88},{"p":1,"h":9,"v":0.68},{"p":1,"h":9.47,"v":0.25},{"p":1,"h":9.97,"v":1.05},{"p":1,"h":11.03,"v":1.32},{"p":1,"h":11.5,"v":1.21},{"p":1,"h":12,"v":1.2},{"p":1,"h":12.5,"v":0.97},{"p":1,"h":12.95,"v":0.88},{"p":1,"h":13.95,"v":0.39},{"p":1,"h":14.4,"v":0.12},{"p":1,"h":15,"v":0.2},{"p":1,"h":16,"v":0.9},{"p":1,"h":16.5,"v":1.22},{"p":1,"h":17,"v":1.16},{"p":1,"h":17.96,"v":1.12},{"p":1,"h":19,"v":1.04},{"p":1,"h":20,"v":0.97},{"p":1,"h":21,"v":0.57},{"p":1,"h":21.5,"v":0.28},{"p":1,"h":22,"v":0.84},{"p":1,"h":23,"v":1.35},{"p":1,"h":23.5,"v":1.23},{"p":1,"h":24,"v":1.21},{"p":1,"h":24.9,"v":0.8},{"p":1,"h":26,"v":0.29},{"p":1,"h":26.4,"v":0.09},{"p":1,"h":26.96,"v":0.36},{"p":1,"h":27.96,"v":1.0},{"p":1,"h":28.4,"v":1.16},{"p":1,"h":28.9,"v":1.13},{"p":1,"h":29.9,"v":1.07},{"p":1,"h":30.97,"v":1.1},{"p":1,"h":31.97,"v":0.9},{"p":1,"h":33,"v":0.75},{"p":1,"h":33.45,"v":0.71},{"p":1,"h":33.95,"v":0.22},
{"p":2,"h":5.97,"v":119},{"p":2,"h":6.98,"v":129},{"p":2,"h":7.96,"v":125},{"p":2,"h":8.96,"v":125},{"p":2,"h":9.5,"v":230},{"p":2,"h":9.97,"v":308},{"p":2,"h":11,"v":303},{"p":2,"h":11.5,"v":306},{"p":2,"h":12,"v":302},{"p":2,"h":12.5,"v":307},{"p":2,"h":13,"v":306},{"p":2,"h":14,"v":294},{"p":2,"h":14.5,"v":322},{"p":2,"h":15,"v":114},{"p":2,"h":16,"v":122},{"p":2,"h":16.5,"v":129},{"p":2,"h":17,"v":127.5},{"p":2,"h":18,"v":120},{"p":2,"h":19,"v":123},{"p":2,"h":20,"v":129},{"p":2,"h":21,"v":83},{"p":2,"h":21.5,"v":297},{"p":2,"h":22,"v":308},{"p":2,"h":23,"v":306},{"p":2,"h":23.5,"v":316},{"p":2,"h":24.05,"v":312},{"p":2,"h":25,"v":310},{"p":2,"h":26,"v":297},{"p":2,"h":26.5,"v":276},{"p":2,"h":27.05,"v":113},{"p":2,"h":27.98,"v":133},{"p":2,"h":28.5,"v":132},{"p":2,"h":29,"v":131},{"p":2,"h":30,"v":132},{"p":2,"h":31,"v":132},{"p":2,"h":32,"v":122},{"p":2,"h":33,"v":127.5},{"p":2,"h":33.5,"v":70},{"p":2,"h":34,"v":314},
{"p":3,"h":5.96,"v":1.35},{"p":3,"h":6.96,"v":1.05},{"p":3,"h":8,"v":0.4},{"p":3,"h":8.47,"v":0.18},{"p":3,"h":9,"v":0.44},{"p":3,"h":9.94,"v":1.1},{"p":3,"h":10.97,"v":1.13},{"p":3,"h":11.5,"v":0.9},{"p":3,"h":12,"v":0.64},{"p":3,"h":12.98,"v":0.49},{"p":3,"h":13.95,"v":0.35},{"p":3,"h":14.5,"v":0.28},{"p":3,"h":15,"v":0.25},{"p":3,"h":16,"v":0.53},{"p":3,"h":17,"v":0.83},{"p":3,"h":17.5,"v":0.97},{"p":3,"h":17.95,"v":1.22},{"p":3,"h":18.5,"v":1.08},{"p":3,"h":19,"v":0.69},{"p":3,"h":20,"v":0.78},{"p":3,"h":20.45,"v":0.44},{"p":3,"h":20.9,"v":0.067},{"p":3,"h":21.5,"v":0.65},{"p":3,"h":22,"v":0.89},{"p":3,"h":22.95,"v":0.91},{"p":3,"h":23.5,"v":0.91},{"p":3,"h":23.95,"v":0.98},{"p":3,"h":24.45,"v":0.77},{"p":3,"h":25,"v":0.51},{"p":3,"h":25.96,"v":0.19},{"p":3,"h":26.5,"v":0.21},{"p":3,"h":27,"v":0.33},{"p":3,"h":27.97,"v":0.59},{"p":3,"h":28.95,"v":0.96},{"p":3,"h":29.5,"v":1.2},{"p":3,"h":30.02,"v":1.37},{"p":3,"h":30.5,"v":0.96},{"p":3,"h":31,"v":0.94},{"p":3,"h":32,"v":0.9},{"p":3,"h":33,"v":0.26},{"p":3,"h":33.5,"v":0.38},{"p":3,"h":34,"v":0.95},
{"p":4,"h":5.97,"v":125},{"p":4,"h":6.98,"v":143},{"p":4,"h":7.99,"v":163},{"p":4,"h":8.5,"v":166},{"p":4,"h":8.96,"v":286},{"p":4,"h":9.97,"v":283},{"p":4,"h":11,"v":289},{"p":4,"h":11.5,"v":298},{"p":4,"h":12,"v":300},{"p":4,"h":12.96,"v":248},{"p":4,"h":13.9,"v":223},{"p":4,"h":14.4,"v":173},{"p":4,"h":15,"v":146},{"p":4,"h":16,"v":137},{"p":4,"h":17,"v":100.4},{"p":4,"h":17.5,"v":103},{"p":4,"h":18,"v":105},{"p":4,"h":18.5,"v":122},{"p":4,"h":19,"v":121},{"p":4,"h":19.97,"v":122},{"p":4,"h":20.4,"v":83.6},{"p":4,"h":21,"v":9.6},{"p":4,"h":21.45,"v":290.6},{"p":4,"h":22,"v":288.8},{"p":4,"h":23,"v":297.8},{"p":4,"h":23.5,"v":297.8},{"p":4,"h":24.05,"v":292.6},{"p":4,"h":24.5,"v":293.5},{"p":4,"h":25,"v":282.4},{"p":4,"h":26,"v":241},{"p":4,"h":26.5,"v":170.7},{"p":4,"h":27,"v":151.8},{"p":4,"h":28,"v":130.6},{"p":4,"h":29,"v":111.8},{"p":4,"h":29.54,"v":114.7},{"p":4,"h":30,"v":125.7},{"p":4,"h":30.5,"v":125},{"p":4,"h":31,"v":132},{"p":4,"h":32,"v":97.5},{"p":4,"h":33,"v":75.8},{"p":4,"h":33.55,"v":278.7},{"p":4,"h":34,"v":288.3},
{"p":5,"h":5.94,"v":0.486},{"p":5,"h":6.46,"v":0.52},{"p":5,"h":6.98,"v":0.35},{"p":5,"h":7.45,"v":0.25},{"p":5,"h":8,"v":0.19},{"p":5,"h":8.46,"v":0.22},{"p":5,"h":9,"v":0.55},{"p":5,"h":9.48,"v":0.68},{"p":5,"h":10,"v":0.75},{"p":5,"h":10.52,"v":0.67},{"p":5,"h":11,"v":0.61},{"p":5,"h":11.48,"v":0.54},{"p":5,"h":11.94,"v":0.41},{"p":5,"h":12.46,"v":0.37},{"p":5,"h":12.98,"v":0.34},{"p":5,"h":13.45,"v":0.27},{"p":5,"h":13.94,"v":0.2},{"p":5,"h":14.46,"v":0.2},{"p":5,"h":14.98,"v":0.255},{"p":5,"h":15.48,"v":0.34},{"p":5,"h":16,"v":0.4},{"p":5,"h":16.46,"v":0.43},{"p":5,"h":16.98,"v":0.49},{"p":5,"h":17.45,"v":0.52},{"p":5,"h":18,"v":0.48},{"p":5,"h":18.46,"v":0.46},{"p":5,"h":18.98,"v":0.43},{"p":5,"h":19.48,"v":0.35},{"p":5,"h":19.94,"v":0.29},{"p":5,"h":20.46,"v":0.31},{"p":5,"h":21,"v":0.41},{"p":5,"h":21.48,"v":0.54},{"p":5,"h":21.94,"v":0.617},{"p":5,"h":22.46,"v":0.617},{"p":5,"h":22.98,"v":0.55},{"p":5,"h":23.48,"v":0.48},{"p":5,"h":23.94,"v":0.416},{"p":5,"h":24.46,"v":0.35},{"p":5,"h":24.98,"v":0.26},{"p":5,"h":25.48,"v":0.16},{"p":5,"h":25.94,"v":0.09},{"p":5,"h":26.46,"v":0.09},{"p":5,"h":26.98,"v":0.19},{"p":5,"h":27.48,"v":0.3},{"p":5,"h":28,"v":0.39},{"p":5,"h":28.5,"v":0.48},{"p":5,"h":28.98,"v":0.555},{"p":5,"h":29.48,"v":0.605},{"p":5,"h":30,"v":0.627},{"p":5,"h":30.46,"v":0.66},{"p":5,"h":30.98,"v":0.6},{"p":5,"h":31.48,"v":0.39},{"p":5,"h":32,"v":0.22},{"p":5,"h":32.5,"v":0.22},{"p":5,"h":33,"v":0.376},{"p":5,"h":33.54,"v":0.58},
{"p":6,"h":6,"v":106.7},{"p":6,"h":6.5,"v":99.6},{"p":6,"h":7,"v":82.4},{"p":6,"h":7.48,"v":64.4},{"p":6,"h":8,"v":6.6},{"p":6,"h":8.5,"v":320.5},{"p":6,"h":9,"v":321.4},{"p":6,"h":9.48,"v":297.6},{"p":6,"h":10,"v":297.6},{"p":6,"h":10.5,"v":296},{"p":6,"h":11,"v":291.8},{"p":6,"h":11.48,"v":296},{"p":6,"h":12,"v":287.5},{"p":6,"h":12.5,"v":278},{"p":6,"h":13,"v":259},{"p":6,"h":13.48,"v":244},{"p":6,"h":14,"v":233},{"p":6,"h":14.46,"v":209.7},{"p":6,"h":14.95,"v":146.8},{"p":6,"h":15.48,"v":133},{"p":6,"h":15.94,"v":117.3},{"p":6,"h":16.46,"v":106.7},{"p":6,"h":16.95,"v":102},{"p":6,"h":17.48,"v":103},{"p":6,"h":18,"v":93},{"p":6,"h":18.46,"v":89.3},{"p":6,"h":18.95,"v":88.7},{"p":6,"h":19.48,"v":68},{"p":6,"h":20,"v":41.5},{"p":6,"h":20.46,"v":2.3},{"p":6,"h":21,"v":331.3},{"p":6,"h":21.48,"v":316.7},{"p":6,"h":21.94,"v":307},{"p":6,"h":22.46,"v":303.3},{"p":6,"h":23,"v":304.7},{"p":6,"h":23.48,"v":299.9},{"p":6,"h":24,"v":301},{"p":6,"h":24.46,"v":297.6},{"p":6,"h":24.95,"v":284.7},{"p":6,"h":25.48,"v":271.2},{"p":6,"h":26,"v":227.5},{"p":6,"h":26.5,"v":156.8},{"p":6,"h":26.95,"v":149.6},{"p":6,"h":27.48,"v":126.5},{"p":6,"h":27.94,"v":110.7},{"p":6,"h":28.46,"v":97.9},{"p":6,"h":28.95,"v":100.7},{"p":6,"h":29.48,"v":93},{"p":6,"h":30,"v":94.4},{"p":6,"h":30.46,"v":97.9},{"p":6,"h":30.95,"v":97.9},{"p":6,"h":31.48,"v":92.4},{"p":6,"h":32,"v":60.7},{"p":6,"h":32.5,"v":36.3},{"p":6,"h":33.5,"v":307.6},
{"p":7,"h":5.99,"v":0.688},{"p":7,"h":6.47,"v":0.465},{"p":7,"h":6.93,"v":0.317},{"p":7,"h":7.45,"v":0.134},{"p":7,"h":7.96,"v":0.205},{"p":7,"h":8.42,"v":0.338},{"p":7,"h":8.97,"v":0.498},{"p":7,"h":9.42,"v":0.6},{"p":7,"h":9.94,"v":0.657},{"p":7,"h":10.49,"v":0.729},{"p":7,"h":10.94,"v":0.724},{"p":7,"h":11.46,"v":0.709},{"p":7,"h":12,"v":0.625},{"p":7,"h":12.46,"v":0.498},{"p":7,"h":13,"v":0.442},{"p":7,"h":13.47,"v":0.346},{"p":7,"h":13.98,"v":0.268},{"p":7,"h":14.5,"v":0.089},{"p":7,"h":14.98,"v":0.186},{"p":7,"h":15.5,"v":0.275},{"p":7,"h":16,"v":0.36},{"p":7,"h":16.5,"v":0.428},{"p":7,"h":17,"v":0.531},{"p":7,"h":17.54,"v":0.598},{"p":7,"h":18,"v":0.575},{"p":7,"h":18.48,"v":0.498},{"p":7,"h":19,"v":0.338},{"p":7,"h":19.45,"v":0.23},{"p":7,"h":20,"v":0.112},{"p":7,"h":20.5,"v":0.164},{"p":7,"h":20.97,"v":0.39},{"p":7,"h":21.5,"v":0.461},{"p":7,"h":21.98,"v":0.55},{"p":7,"h":22.5,"v":0.598},{"p":7,"h":22.95,"v":0.558},{"p":7,"h":23.5,"v":0.516},{"p":7,"h":23.95,"v":0.446},{"p":7,"h":24.47,"v":0.372},{"p":7,"h":25,"v":0.308},{"p":7,"h":25.47,"v":0.189},{"p":7,"h":26,"v":0.126},{"p":7,"h":26.5,"v":0.092},{"p":7,"h":27,"v":0.219},{"p":7,"h":27.5,"v":0.372},{"p":7,"h":28,"v":0.479},{"p":7,"h":28.5,"v":0.568},{"p":7,"h":29,"v":0.61},{"p":7,"h":29.5,"v":0.672},{"p":7,"h":30,"v":0.639},{"p":7,"h":30.5,"v":0.568},{"p":7,"h":30.94,"v":0.498},{"p":7,"h":31.46,"v":0.327},{"p":7,"h":31.97,"v":0.167},{"p":7,"h":32.46,"v":0.092},{"p":7,"h":32.98,"v":0.327},
{"p":8,"h":5.96,"v":104.1},{"p":8,"h":6.48,"v":111.5},{"p":8,"h":6.94,"v":108},{"p":8,"h":7.48,"v":115.1},{"p":8,"h":7.94,"v":0.9},{"p":8,"h":8.46,"v":300.4},{"p":8,"h":8.97,"v":299.8},{"p":8,"h":9.46,"v":290},{"p":8,"h":9.92,"v":292},{"p":8,"h":10.46,"v":290.6},{"p":8,"h":10.95,"v":289},{"p":8,"h":11.44,"v":288},{"p":8,"h":11.96,"v":281.6},{"p":8,"h":12.47,"v":282.5},{"p":8,"h":12.96,"v":282.5},{"p":8,"h":13.48,"v":274.5},{"p":8,"h":13.96,"v":258.7},{"p":8,"h":14.54,"v":242.4},{"p":8,"h":14.94,"v":119.9},{"p":8,"h":15.45,"v":127.9},{"p":8,"h":15.94,"v":120.4},{"p":8,"h":16.46,"v":120.4},{"p":8,"h":16.98,"v":110.6},{"p":8,"h":17.5,"v":110},{"p":8,"h":17.95,"v":114.5},{"p":8,"h":18.44,"v":115.1},{"p":8,"h":18.98,"v":107},{"p":8,"h":19.47,"v":92.2},{"p":8,"h":19.93,"v":61.6},{"p":8,"h":20.47,"v":331.6},{"p":8,"h":20.99,"v":308.7},{"p":8,"h":21.48,"v":300.4},{"p":8,"h":22,"v":299.8},{"p":8,"h":22.45,"v":298.9},{"p":8,"h":22.97,"v":304.8},{"p":8,"h":23.46,"v":300.4},{"p":8,"h":23.97,"v":292},{"p":8,"h":24.43,"v":292},{"p":8,"h":24.98,"v":276},{"p":8,"h":25.5,"v":261.7},{"p":8,"h":26,"v":243.3},{"p":8,"h":26.4,"v":141.3},{"p":8,"h":26.9,"v":151.7},{"p":8,"h":27.47,"v":120.4},{"p":8,"h":27.93,"v":114.5},{"p":8,"h":28.48,"v":113.6},{"p":8,"h":28.99,"v":111.5},{"p":8,"h":29.45,"v":110},{"p":8,"h":30,"v":110},{"p":8,"h":30.5,"v":107.7},{"p":8,"h":31,"v":104.1},{"p":8,"h":31.52,"v":104.1},{"p":8,"h":32,"v":78.8},{"p":8,"h":32.5,"v":321.2},{"p":8,"h":33,"v":305.7}
]
}
}
